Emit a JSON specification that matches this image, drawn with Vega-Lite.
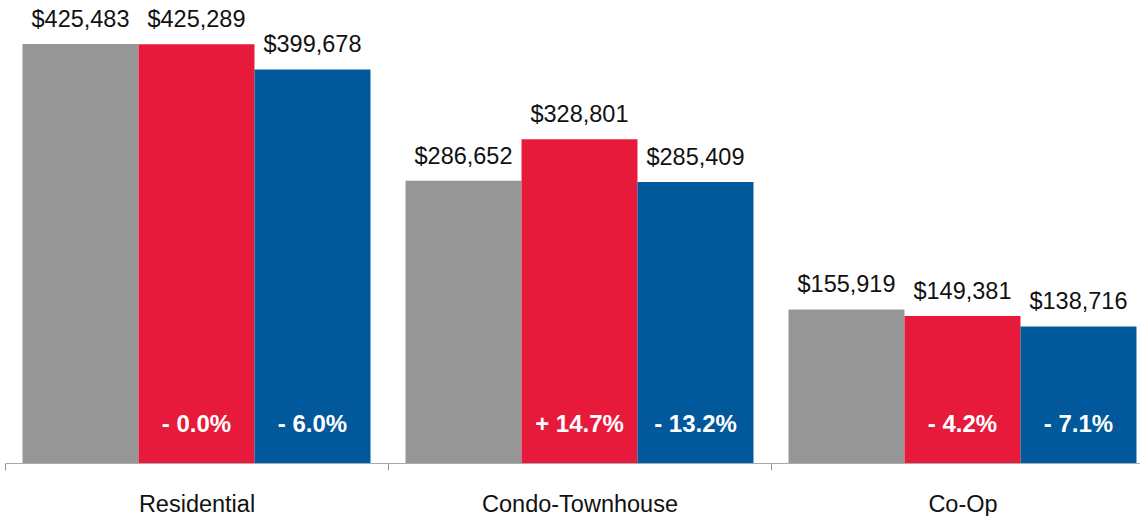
{
  "$schema": "https://vega.github.io/schema/vega-lite/v6.json",
  "width": 1149,
  "height": 463,
  "autosize": "none",
  "padding": {"left": 5, "top": 0, "right": 0, "bottom": 53},
  "background": "white",
  "data": {
    "values": [
      {"group": "Residential", "series": "a", "value": 425483, "pct": ""},
      {"group": "Residential", "series": "b", "value": 425289, "pct": "- 0.0%"},
      {"group": "Residential", "series": "c", "value": 399678, "pct": "- 6.0%"},
      {"group": "Condo-Townhouse", "series": "a", "value": 286652, "pct": ""},
      {"group": "Condo-Townhouse", "series": "b", "value": 328801, "pct": "+ 14.7%"},
      {"group": "Condo-Townhouse", "series": "c", "value": 285409, "pct": "- 13.2%"},
      {"group": "Co-Op", "series": "a", "value": 155919, "pct": ""},
      {"group": "Co-Op", "series": "b", "value": 149381, "pct": "- 4.2%"},
      {"group": "Co-Op", "series": "c", "value": 138716, "pct": "- 7.1%"}
    ]
  },
  "encoding": {
    "x": {
      "field": "group",
      "type": "nominal",
      "sort": ["Residential", "Condo-Townhouse", "Co-Op"],
      "scale": {"paddingInner": 0, "paddingOuter": 0},
      "axis": {
        "title": null,
        "labelAngle": 0,
        "labelFont": "Liberation Sans",
        "labelFontSize": 23.5,
        "labelColor": "#111111",
        "labelPadding": 22,
        "labelLimit": 0,
        "tickBand": "extent",
        "tickSize": 7,
        "tickColor": "#999999",
        "domainColor": "#aaaaaa",
        "grid": false
      }
    },
    "xOffset": {
      "field": "series",
      "type": "nominal",
      "scale": {"paddingInner": 0, "paddingOuter": 0.151}
    },
    "y": {
      "field": "value",
      "type": "quantitative",
      "scale": {"domain": [0, 470160], "nice": false},
      "axis": null
    }
  },
  "layer": [
    {
      "mark": {"type": "bar"},
      "encoding": {
        "color": {
          "field": "series",
          "type": "nominal",
          "scale": {"domain": ["a", "b", "c"], "range": ["#969696", "#E81A3B", "#01589A"]},
          "legend": null
        }
      }
    },
    {
      "mark": {"type": "text", "baseline": "alphabetic", "dy": -17, "font": "Liberation Sans", "fontSize": 23.5, "color": "#111111"},
      "encoding": {
        "text": {"field": "value", "type": "quantitative", "format": "$,.0f"}
      }
    },
    {
      "mark": {"type": "text", "baseline": "alphabetic", "dy": -31, "font": "Liberation Sans", "fontSize": 24, "fontWeight": "bold", "color": "white"},
      "encoding": {
        "y": {"datum": 0},
        "text": {"field": "pct", "type": "nominal"}
      }
    }
  ],
  "config": {"view": {"stroke": null}}
}
